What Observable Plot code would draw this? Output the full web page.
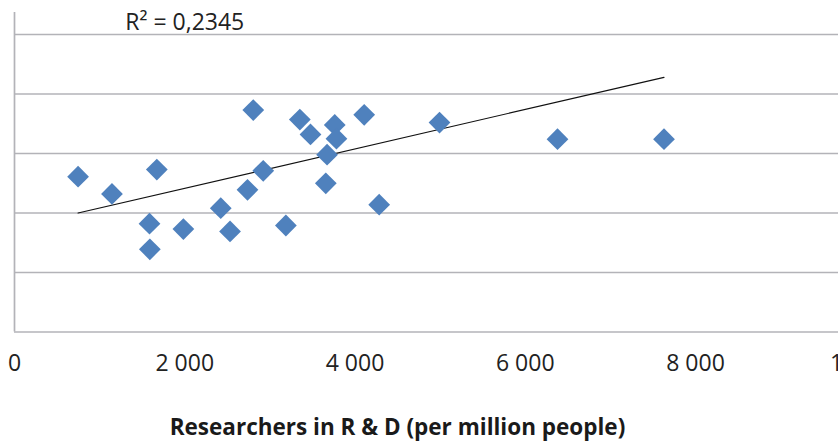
<!DOCTYPE html>
<html>
<head>
<meta charset="utf-8">
<script src="https://cdn.jsdelivr.net/npm/d3@7"></script>
<script src="https://cdn.jsdelivr.net/npm/@observablehq/plot@0.6"></script>
<style>
  html, body { margin: 0; padding: 0; background: #fff; overflow: hidden; }
  #chart { position: relative; width: 838px; height: 445px; overflow: hidden; }
  #title { position: absolute; left: 0; width: 795px; top: 416px; text-align: center;
    font-family: "Open Sans", sans-serif; font-weight: 700; font-size: 22.5px; color: #1a1a1a;
    line-height: 1; }
</style>
</head>
<body>
<div id="chart"></div>
<script>
// Researchers in R & D (per million people)
const researchers = [747, 1145, 1672, 1586, 1590, 1984, 2423, 2532, 2737, 2805, 2922, 3188,
  3352, 3477, 3762, 3782, 3672, 3657, 4108, 4284, 4993, 6379, 7630];
// Y-variable (axis labels not visible in the reference, grid units)
const outcome = [26.1, 23.2, 27.3, 18.2, 13.9, 17.3, 20.8, 16.9, 23.9, 37.3, 27.1, 17.9,
  35.7, 33.2, 34.8, 32.5, 29.8, 25.0, 36.5, 21.4, 35.2, 32.4, 32.4];
// Linear trendline as drawn in the reference (start / end)
const trendX = [747, 7630];
const trendY = [20.0, 42.8];
const rSquared = "R² = 0,2345";
const xTicks = [0, 2000, 4000, 6000, 8000, 10000];
const yGrid = [0, 10, 20, 30, 40, 50];

const points = researchers.map((x, i) => ({x, y: outcome[i]}));
const trend = trendX.map((x, i) => ({x, y: trendY[i]}));

const fmt = d => d3.format(",")(d).replace(/,/g, " ");

const plot = Plot.plot({
  width: 838,
  height: 445,
  marginLeft: 14,
  marginRight: 0,
  marginTop: 12,
  marginBottom: 113.5,
  style: {fontFamily: "Open Sans, sans-serif", fontSize: "23px", color: "#222", background: "#fff", overflow: "hidden"},
  x: {domain: [0, 9680], tickSize: 0, label: null},
  y: {domain: [0, 53.7], axis: null},
  marks: [
    Plot.ruleY(yGrid, {stroke: "#b3b3b8", strokeWidth: 1.7}),
    Plot.ruleX([0], {y1: 0, y2: 53.7, stroke: "#b3b3b8", strokeWidth: 1.7}),
    Plot.axisX(xTicks, {tickFormat: fmt, tickSize: 0, tickPadding: 23, fontSize: 23, label: null}),
    Plot.line(trend, {x: "x", y: "y", stroke: "#111", strokeWidth: 1.2}),
    Plot.dot(points, {x: "x", y: "y", symbol: "diamond2", r: 9.8, fill: "#4f81bd", stroke: "none"}),
    Plot.text([rSquared], {x: 2000, y: 52, text: d => d, fontSize: 23, fill: "#222", textAnchor: "middle"})
  ]
});
document.getElementById("chart").appendChild(plot);
const t = document.createElement("div");
t.id = "title";
t.textContent = "Researchers in R & D (per million people)";
document.getElementById("chart").appendChild(t);
</script>
</body>
</html>
